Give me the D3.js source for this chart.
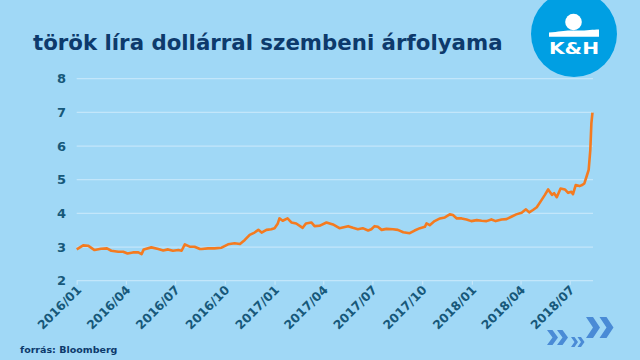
<!DOCTYPE html>
<html><head><meta charset="utf-8">
<script src="https://cdn.jsdelivr.net/npm/d3@7"></script>
<style>
html,body{margin:0;padding:0;background:#a0d8f6;}
svg{display:block;}
</style></head>
<body>
<svg id="c" width="640" height="360"></svg>
<script>
const title = "török líra dollárral szembeni árfolyama";
const source = "forrás: Bloomberg";
const dates = ["2016-01-01","2016-01-13","2016-01-22","2016-02-03","2016-02-15","2016-02-26","2016-03-05","2016-03-18","2016-03-27","2016-04-04","2016-04-14","2016-04-24","2016-04-30","2016-05-04","2016-05-18","2016-05-31","2016-06-09","2016-06-18","2016-06-27","2016-07-07","2016-07-13","2016-07-19","2016-07-28","2016-08-06","2016-08-16","2016-08-19","2016-08-31","2016-09-12","2016-09-25","2016-10-07","2016-10-19","2016-10-29","2016-11-07","2016-11-16","2016-11-25","2016-12-02","2016-12-08","2016-12-17","2016-12-26","2017-01-01","2017-01-07","2017-01-10","2017-01-16","2017-01-25","2017-02-01","2017-02-10","2017-02-22","2017-02-28","2017-03-10","2017-03-16","2017-03-25","2017-04-07","2017-04-19","2017-05-01","2017-05-17","2017-05-26","2017-06-04","2017-06-13","2017-06-23","2017-06-29","2017-07-05","2017-07-11","2017-07-18","2017-07-27","2017-08-08","2017-08-17","2017-08-27","2017-09-08","2017-09-17","2017-09-27","2017-10-06","2017-10-09","2017-10-15","2017-10-24","2017-11-03","2017-11-12","2017-11-21","2017-11-27","2017-12-04","2017-12-13","2017-12-22","2017-12-31","2018-01-10","2018-01-19","2018-01-28","2018-02-06","2018-02-14","2018-02-25","2018-03-06","2018-03-15","2018-03-24","2018-04-03","2018-04-11","2018-04-17","2018-04-24","2018-05-01","2018-05-10","2018-05-16","2018-05-22","2018-05-29","2018-06-02","2018-06-07","2018-06-14","2018-06-22","2018-06-28","2018-07-04","2018-07-07","2018-07-12","2018-07-19","2018-07-24","2018-07-28","2018-08-02","2018-08-05","2018-08-08","2018-08-10","2018-08-12"];
const values = [2.93,3.05,3.04,2.91,2.95,2.96,2.89,2.86,2.86,2.81,2.84,2.84,2.79,2.93,2.99,2.94,2.90,2.93,2.89,2.91,2.89,3.08,3.01,3.01,2.94,2.94,2.96,2.96,2.98,3.08,3.11,3.09,3.21,3.36,3.43,3.51,3.43,3.51,3.53,3.56,3.70,3.85,3.78,3.85,3.73,3.70,3.57,3.70,3.73,3.62,3.63,3.73,3.67,3.56,3.62,3.57,3.53,3.56,3.49,3.53,3.62,3.60,3.51,3.54,3.53,3.51,3.44,3.41,3.49,3.56,3.60,3.70,3.65,3.77,3.85,3.88,3.97,3.95,3.85,3.85,3.82,3.77,3.80,3.78,3.77,3.82,3.77,3.82,3.83,3.90,3.97,4.02,4.12,4.03,4.10,4.18,4.40,4.55,4.71,4.55,4.60,4.48,4.74,4.71,4.61,4.64,4.57,4.84,4.81,4.84,4.89,5.14,5.29,5.88,6.67,6.99];
const xTicks = ["2016-01-01","2016-04-01","2016-07-01","2016-10-01","2017-01-01","2017-04-01","2017-07-01","2017-10-01","2018-01-01","2018-04-01","2018-07-01"];
const yTicks = [2,3,4,5,6,7,8];

const parse = d3.timeParse("%Y-%m-%d");
const data = dates.map((d,i)=>({date:parse(d), v:values[i]}));
const svg = d3.select("#c");
const bg = "#a0d8f6", grid = "#c3e6fa", lab = "#17587a", navy = "#0d3a6c", orange = "#f47b20";

svg.append("rect").attr("width",640).attr("height",360).attr("fill",bg);

const x = d3.scaleTime().domain([parse("2016-01-01"), parse("2018-08-13")]).range([76.7, 593]);
const y = d3.scaleLinear().domain([2,8]).range([280.7, 78.7]);

// gridlines
svg.append("g").selectAll("line").data(yTicks).join("line")
  .attr("x1",76.7).attr("x2",593).attr("y1",d=>y(d)).attr("y2",d=>y(d))
  .attr("stroke",grid).attr("stroke-width",1.2);

// y axis labels
const yAxis = d3.axisLeft(y).tickValues(yTicks).tickSize(0).tickPadding(0).tickFormat(d3.format("d"));
const gy = svg.append("g").attr("transform","translate(66,0)").call(yAxis);
gy.select(".domain").remove();
gy.selectAll("text").attr("fill",lab).style("font-family","DejaVu Sans").style("font-weight","bold").style("font-size","13px");

// x axis
const xAxis = d3.axisBottom(x).tickValues(xTicks.map(parse)).tickSize(4).tickFormat(d3.timeFormat("%Y/%m"));
const gx = svg.append("g").attr("transform",`translate(0,${y(2)})`).call(xAxis);
gx.select(".domain").remove();
gx.selectAll(".tick line").attr("stroke",grid).attr("stroke-width",1.2);
gx.selectAll("text").attr("fill",lab).style("font-family","DejaVu Sans").style("font-weight","bold").style("font-size","12.3px")
  .attr("text-anchor","end").attr("dy",null).attr("y",0)
  .attr("transform","translate(5,10) rotate(-45)");

// line
const line = d3.line().x(d=>x(d.date)).y(d=>y(d.v)).curve(d3.curveLinear);
svg.append("path").datum(data).attr("d",line).attr("fill","none")
  .attr("stroke",orange).attr("stroke-width",2.6).attr("stroke-linejoin","round");

// title
svg.append("text").attr("x",33).attr("y",50).text(title)
  .attr("fill",navy).style("font-family","DejaVu Sans").style("font-weight","bold").style("font-size","21.3px");

// source
svg.append("text").attr("x",20).attr("y",353).text(source)
  .attr("fill",navy).style("font-family","DejaVu Sans").style("font-weight","bold").style("font-size","9.5px");

// logo
const logo = svg.append("g");
logo.append("circle").attr("cx",574).attr("cy",34).attr("r",43).attr("fill","#009fe3");
logo.append("circle").attr("cx",573.5).attr("cy",22).attr("r",8.3).attr("fill","#fff");
logo.append("path").attr("d","M549,32.5 C560,31.5 566,30 573,30.5 C585,31 592,29.5 599,29.5 L599,36.8 L549,36.8 Z").attr("fill","#fff");
logo.append("text").attr("x",549).attr("y",53.5).text("K&H").attr("fill","#fff")
  .attr("textLength",50).attr("lengthAdjust","spacingAndGlyphs")
  .style("font-family","DejaVu Sans").style("font-weight","bold").style("font-size","16.5px");

// chevrons
function chev(x0,y0,w,h,t){
  return `M${x0},${y0} L${x0+t},${y0} L${x0+w},${y0+h/2} L${x0+t},${y0+h} L${x0},${y0+h} L${x0+w-t},${y0+h/2} Z`;
}
const ar = svg.append("g").attr("fill","#4a8bd6");
[[547,330,11,15,5.5,10],[571,337,7,10,3.5,6.5],[586,317,14,21,7,13.5]].forEach(([x0,y0,w,h,t,o])=>{
  ar.append("path").attr("d",chev(x0,y0,w,h,t));
  ar.append("path").attr("d",chev(x0+o,y0,w,h,t));
});
</script>
</body></html>
